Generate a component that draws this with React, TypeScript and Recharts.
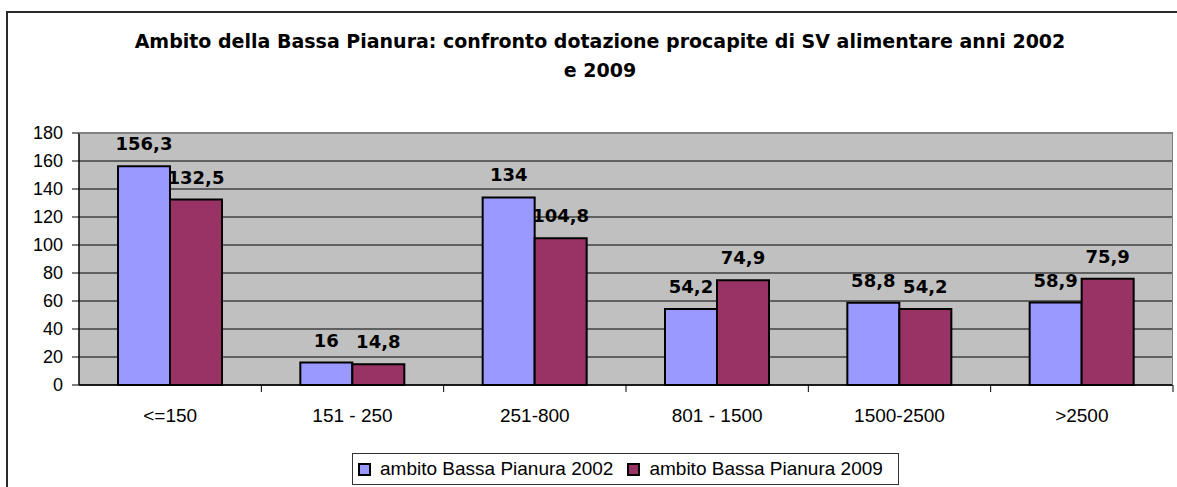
import React from "react";
import {
  BarChart,
  Bar,
  XAxis,
  YAxis,
  CartesianGrid,
  LabelList,
} from "recharts";

const categories = ["<=150", "151 - 250", "251-800", "801 - 1500", "1500-2500", ">2500"];
const values2002 = [156.3, 16, 134, 54.2, 58.8, 58.9];
const values2009 = [132.5, 14.8, 104.8, 74.9, 54.2, 75.9];
const yTicks = [0, 20, 40, 60, 80, 100, 120, 140, 160, 180];

const seriesNames = ["ambito Bassa Pianura 2002", "ambito Bassa Pianura 2009"];
const seriesColors = ["#9999FF", "#993366"];

const data = categories.map((cat, i) => ({
  cat,
  y2002: values2002[i],
  y2009: values2009[i],
}));

const fmt = (v: any) => String(v).replace(".", ",");

const XTick = (props: any) => {
  const { x, y, payload } = props;
  const half = payload && payload.offset ? payload.offset : 91.2;
  return (
    <g>
      <line x1={x + half} y1={y} x2={x + half} y2={y + 7} stroke="#000" strokeWidth={1} />
      <text
        x={x}
        y={y + 37}
        textAnchor="middle"
        fontFamily="'Liberation Sans', Arial, sans-serif"
        fontSize={19}
        fill="#000"
      >
        {payload.value}
      </text>
    </g>
  );
};

export default function App() {
  return (
    <div
      style={{
        position: "absolute",
        left: 0,
        top: 0,
        width: 1177,
        height: 487,
        background: "#fff",
        overflow: "hidden",
      }}
    >
      <div
        style={{
          position: "absolute",
          left: 6,
          top: 11,
          width: 1200,
          height: 500,
          borderLeft: "2px solid #2a2a2a",
          borderTop: "2px solid #2a2a2a",
        }}
      />
      <div
        style={{
          position: "absolute",
          left: 0,
          top: 27,
          width: 1200,
          textAlign: "center",
          fontFamily: "'DejaVu Sans', Verdana, sans-serif",
          fontWeight: "bold",
          fontSize: 19,
          lineHeight: "29px",
          color: "#000",
        }}
      >
        Ambito della Bassa Pianura: confronto dotazione procapite di SV alimentare anni 2002
        <br />e 2009
      </div>
      <div style={{ position: "absolute", left: 0, top: 0 }}>
        <BarChart
          width={1177}
          height={487}
          data={data}
          margin={{ top: 133, right: 4, bottom: 62, left: 6 }}
          barGap={0}
          barSize={52}
        >
          <CartesianGrid
            vertical={false}
            stroke="#000"
            strokeWidth={1}
            fill="#C0C0C0"
            fillOpacity={1}
          />
          <XAxis
            dataKey="cat"
            height={40}
            axisLine={{ stroke: "#000", strokeWidth: 1.5 }}
            tickLine={false}
            tickSize={0}
            tickMargin={0}
            interval={0}
            tick={<XTick />}
          />
          <YAxis
            width={73}
            domain={[0, 180]}
            ticks={yTicks}
            interval={0}
            axisLine={{ stroke: "#000", strokeWidth: 1.5 }}
            tickLine={{ stroke: "#000" }}
            tickSize={7}
            tickMargin={9}
            tick={{
              fill: "#000",
              fontSize: 18,
              fontFamily: "'Liberation Sans', Arial, sans-serif",
            }}
          />
          <Bar
            dataKey="y2002"
            fill={seriesColors[0]}
            stroke="#000"
            strokeWidth={2}
            isAnimationActive={false}
          >
            <LabelList
              dataKey="y2002"
              position="top"
              offset={16}
              formatter={fmt}
              fill="#000"
              fontSize={18}
              fontWeight="bold"
              fontFamily="'DejaVu Sans', Verdana, sans-serif"
            />
          </Bar>
          <Bar
            dataKey="y2009"
            fill={seriesColors[1]}
            stroke="#000"
            strokeWidth={2}
            isAnimationActive={false}
          >
            <LabelList
              dataKey="y2009"
              position="top"
              offset={16}
              formatter={fmt}
              fill="#000"
              fontSize={18}
              fontWeight="bold"
              fontFamily="'DejaVu Sans', Verdana, sans-serif"
            />
          </Bar>
        </BarChart>
      </div>
      {/* plot area outline (top / right) */}
      <div
        style={{
          position: "absolute",
          left: 79,
          top: 133,
          width: 1094,
          height: 252,
          borderTop: "1.5px solid #808080",
          borderRight: "1.5px solid #808080",
          boxSizing: "border-box",
          pointerEvents: "none",
        }}
      />
      <div
        style={{
          position: "absolute",
          left: 352,
          top: 453,
          width: 547,
          height: 32,
          border: "1px solid #333",
          boxSizing: "border-box",
          display: "flex",
          alignItems: "center",
          paddingLeft: 5,
          fontFamily: "'Liberation Sans', Arial, sans-serif",
          fontSize: 19,
          color: "#000",
          whiteSpace: "nowrap",
        }}
      >
        {seriesNames.map((name, i) => (
          <span key={name} style={{ display: "flex", alignItems: "center", marginRight: 14 }}>
            <span
              style={{
                display: "inline-block",
                width: 13,
                height: 13,
                background: seriesColors[i],
                border: "2px solid #000",
                boxSizing: "border-box",
                marginRight: 9,
              }}
            />
            {name}
          </span>
        ))}
      </div>
    </div>
  );
}
